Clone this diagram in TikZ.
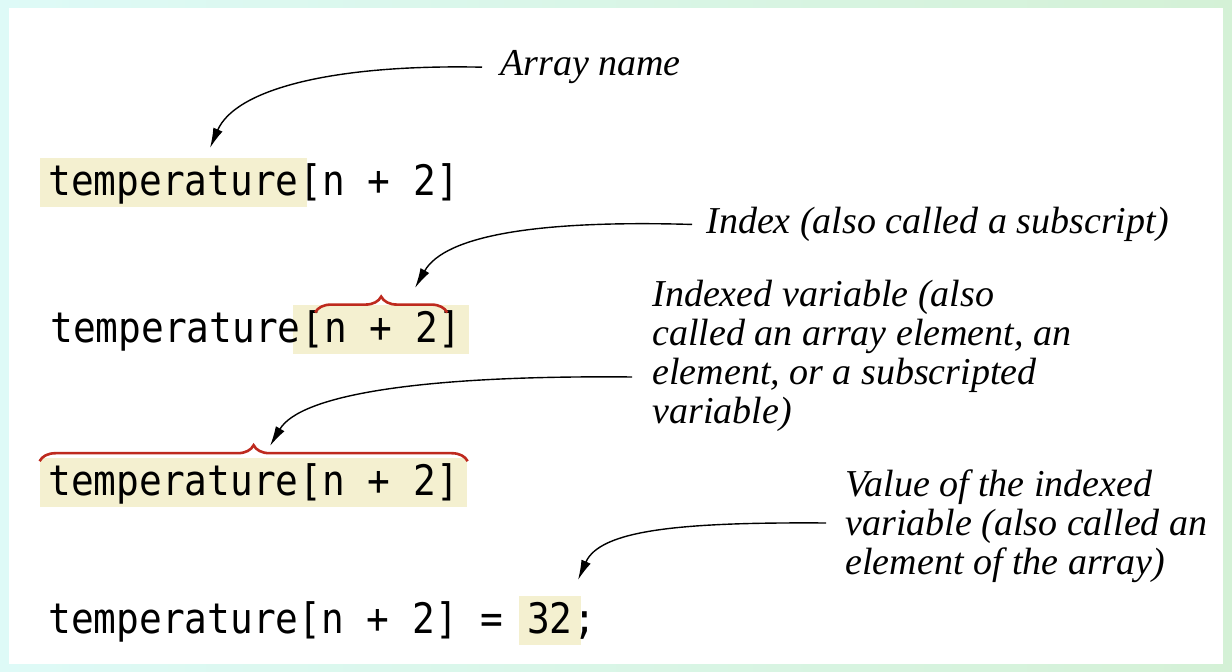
\documentclass[tikz,border=0pt]{standalone}
\usepackage{fontspec}
\setmainfont{Liberation Serif}
\newfontfamily\codefont[FakeStretch=0.9]{DejaVu Sans Mono}
\usetikzlibrary{arrows.meta,decorations.pathreplacing,backgrounds,fit}

\definecolor{hlbg}{RGB}{244,240,208}
\definecolor{bracered}{RGB}{190,42,30}
\definecolor{edgecyan}{RGB}{222,250,247}
\definecolor{edgegreen}{RGB}{212,241,214}

\tikzset{
  code/.style={inner sep=0pt, anchor=base west,
    font=\codefont\fontsize{21}{21}\selectfont,
    text height=19pt, text depth=5.5pt},
  hl/.style={fill=hlbg, inner ysep=0pt, inner xsep=4pt},
  note/.style={font=\itshape\fontsize{19}{19.5}\selectfont,
    align=left, inner sep=0pt},
  pointer/.style={-{Latex[length=10pt,width=5pt]}, line width=0.7pt},
  redbrace/.style={decorate, decoration={brace, amplitude=8pt},
    draw=bracered, line width=1.3pt}
}

\begin{document}
\begin{tikzpicture}[x=0.5pt,y=-0.5pt]
\useasboundingbox (0,0) rectangle (1232,672);

% code lines
\node[code] (c1a) at (48,196) {temperature};
\node[code] (c1b) at (c1a.base east) {[n + 2]};

\node[code] (c2a) at (50,343) {temperature};
\node[code] (c2b) at (c2a.base east) {[n + 2]};

\node[code] (c3a) at (48,496) {temperature};
\node[code] (c3b) at (c3a.base east) {[n + 2]};

\node[code] (c4a) at (48,634) {temperature[n + 2] =\ \null};
\node[code] (c4b) at (c4a.base east) {32};
\node[code] (c4c) at (c4b.base east) {;};

\begin{scope}[on background layer]
\fill[left color=edgecyan, right color=edgegreen] (0,0) rectangle (1232,672);
\fill[white] (9,8) rectangle (1223,664);
\node[hl, fit=(c1a)] (h1) {};
\node[hl, fit=(c2b)] (h2) {};
\node[hl, fit=(c3a) (c3b)] (h3) {};
\node[hl, fit=(c4b)] (h4) {};
\end{scope}

% braces
\draw[redbrace] ([shift={(7pt,-4pt)}]c2b.north west) -- ([shift={(-7pt,-4pt)}]c2b.north east);
\draw[redbrace] ([yshift=-2pt]h3.north west) -- ([yshift=-2pt]h3.north east);

% labels
\node[note, anchor=base west] (lblname) at (500,76) {Array name};
\node[note, anchor=base west] (lblindex) at (706,234) {Index (also called a subscript)};
\node[note, anchor=north west] (lblvar) at (652,280) {Indexed variable (also\\called an array element, an\\element, or a subscripted\\variable)};
\node[note, anchor=north west] (lblval) at (845,469) {Value of the indexed\\variable (also called an\\element of the array)};

\coordinate (tip1) at (210,148);
\coordinate (tip2) at (415,288);
\coordinate (tip3) at (270,446);
\coordinate (tip4) at (578,580);
\coordinate (tail3) at (632,377);
\coordinate (tail4) at (826,523);

\draw[pointer, shorten <=9pt] (lblname.west) .. controls (330,64) and (235,90) .. (tip1);
\draw[pointer, shorten <=7pt] (lblindex.west) .. controls (540,220) and (445,235) .. (tip2);
\draw[pointer] (tail3) .. controls (420,375) and (300,395) .. (tip3);
\draw[pointer] (tail4) .. controls (680,522) and (600,530) .. (tip4);
\end{tikzpicture}
\end{document}
